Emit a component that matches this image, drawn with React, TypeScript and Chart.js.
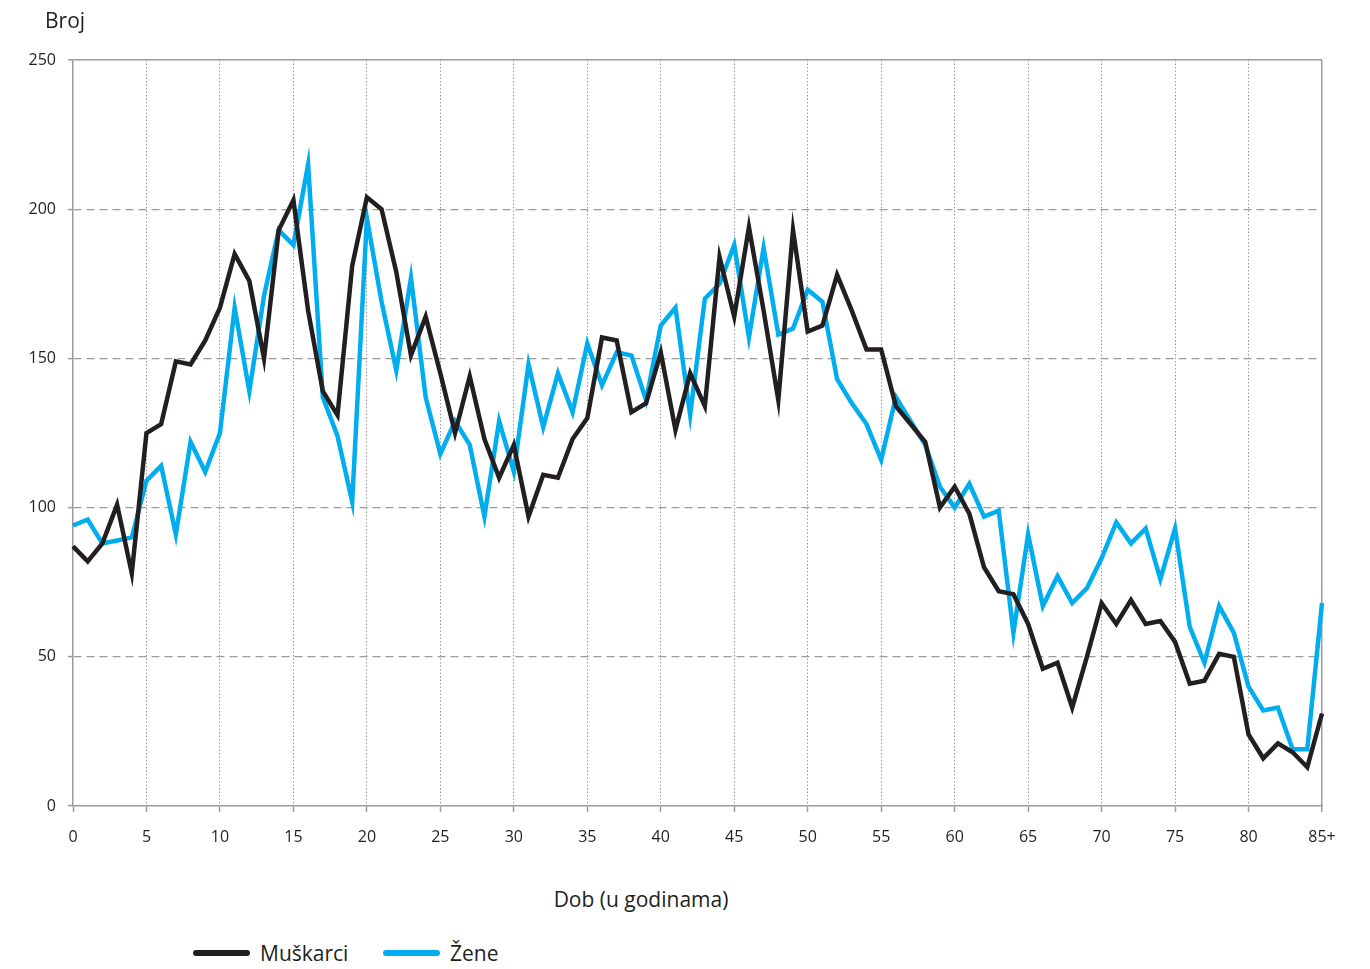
import React, { useEffect, useRef } from "react";
import { Chart, registerables } from "chart.js";

Chart.register(...registerables);

const ageLabels = [
  "0", "1", "2", "3", "4", "5", "6", "7", "8", "9",
  "10", "11", "12", "13", "14", "15", "16", "17", "18", "19",
  "20", "21", "22", "23", "24", "25", "26", "27", "28", "29",
  "30", "31", "32", "33", "34", "35", "36", "37", "38", "39",
  "40", "41", "42", "43", "44", "45", "46", "47", "48", "49",
  "50", "51", "52", "53", "54", "55", "56", "57", "58", "59",
  "60", "61", "62", "63", "64", "65", "66", "67", "68", "69",
  "70", "71", "72", "73", "74", "75", "76", "77", "78", "79",
  "80", "81", "82", "83", "84", "85+",
];

const muskarci = [
  87, 82, 88, 101, 78, 125, 128, 149, 148, 156,
  167, 185, 176, 150, 193, 203, 166, 139, 131, 181,
  204, 200, 179, 151, 164, 145, 125, 144, 123, 110,
  121, 97, 111, 110, 123, 130, 157, 156, 132, 135,
  152, 126, 145, 134, 184, 164, 194, 166, 136, 193,
  159, 161, 178, 166, 153, 153, 134, 128, 122, 100,
  107, 98, 80, 72, 71, 61, 46, 48, 33, 50,
  68, 61, 69, 61, 62, 55, 41, 42, 51, 50,
  24, 16, 21, 18, 13, 31,
];

const zene = [
  94, 96, 88, 89, 90, 109, 114, 91, 122, 112,
  125, 167, 139, 171, 193, 188, 215, 137, 124, 102,
  197, 169, 146, 177, 137, 118, 129, 121, 97, 129,
  112, 148, 127, 145, 132, 155, 141, 152, 151, 136,
  161, 167, 131, 170, 175, 188, 157, 187, 158, 160,
  173, 169, 143, 135, 128, 116, 137, 129, 121, 107,
  100, 108, 97, 99, 58, 91, 67, 77, 68, 73,
  83, 95, 88, 93, 76, 93, 60, 48, 67, 58,
  40, 32, 33, 19, 19, 68,
];

const yTicks = [0, 50, 100, 150, 200, 250];

const GRID = "#9b9b9b";
const TEXT = "#231f20";
const BLACK = "#231f20";
const BLUE = "#00aeef";
const FONT = "'Open Sans', 'Noto Sans', sans-serif";

export default function App() {
  const ref = useRef<HTMLCanvasElement | null>(null);

  useEffect(() => {
    if (!ref.current) return;
    const chart = new Chart(ref.current, {
      type: "line",
      data: {
        labels: ageLabels,
        datasets: [
          {
            label: "Muškarci",
            data: muskarci,
            borderColor: BLACK,
            backgroundColor: BLACK,
            borderWidth: 4.5,
            pointRadius: 0,
            tension: 0,
            fill: false,
          },
          {
            label: "Žene",
            data: zene,
            borderColor: BLUE,
            backgroundColor: BLUE,
            borderWidth: 4.5,
            pointRadius: 0,
            tension: 0,
            fill: false,
          },
        ],
      },
      options: {
        responsive: false,
        animation: false,
        events: [],
        layout: { padding: { left: 0, right: 40, top: 52, bottom: 0 } },
        plugins: {
          legend: { display: false },
          tooltip: { enabled: false },
        },
        scales: {
          x: {
            type: "category",
            offset: false,
            afterFit: (s: any) => {
              s.height = 62;
            },
            grid: {
              color: (c: any) =>
                c.index % 5 === 0 && c.index !== 0 ? GRID : "transparent",
              lineWidth: (c: any) => (c.index === 85 ? 1.5 : 1),
              tickLength: 6,
              tickWidth: 1.5,
              tickColor: (c: any) => (c.index % 5 === 0 ? GRID : "transparent"),
            },
            border: {
              display: true,
              color: GRID,
              width: 1.5,
              dash: (c: any) => (c.index === 85 ? [] : [1.5, 2]),
            },
            ticks: {
              autoSkip: false,
              maxRotation: 0,
              minRotation: 0,
              padding: 16,
              color: TEXT,
              font: { family: FONT, size: 16 },
              callback: (_v: any, i: number) => (i % 5 === 0 ? ageLabels[i] : ""),
            },
          },
          y: {
            min: 0,
            max: 250,
            afterFit: (s: any) => {
              s.width = 65;
            },
            afterBuildTicks: (s: any) => {
              s.ticks = yTicks.map((v) => ({ value: v }));
            },
            grid: {
              color: (c: any) =>
                c.tick && c.tick.value === 0 ? "transparent" : GRID,
              lineWidth: (c: any) => (c.tick && c.tick.value === 250 ? 1.5 : 1.2),
              tickLength: 5,
              tickWidth: 1.5,
              tickColor: GRID,
            },
            border: {
              display: true,
              color: GRID,
              width: 1.5,
              dash: (c: any) => (c.tick && c.tick.value === 250 ? [] : [8, 5]),
            },
            ticks: {
              padding: 12,
              color: TEXT,
              font: { family: FONT, size: 16 },
            },
          },
        },
      },
    });
    return () => chart.destroy();
  }, []);

  const textStyle: React.CSSProperties = {
    position: "absolute",
    fontFamily: FONT,
    fontSize: 21,
    lineHeight: "24px",
    color: TEXT,
    whiteSpace: "nowrap",
  };

  return (
    <div style={{ position: "relative", width: 1354, height: 953 }}>
      <canvas
        ref={ref}
        width={1354}
        height={860}
        style={{ position: "absolute", left: 0, top: 0 }}
      />
      <div style={{ ...textStyle, left: 37, top: 0 }}>Broj</div>
      <div
        style={{
          ...textStyle,
          left: 633,
          top: 879,
          transform: "translateX(-50%)",
        }}
      >
        Dob (u godinama)
      </div>
      <div
        style={{
          position: "absolute",
          left: 185,
          top: 945,
          width: 57,
          height: 6,
          marginTop: -3,
          borderRadius: 3,
          background: BLACK,
        }}
      />
      <div style={{ ...textStyle, left: 252, top: 933 }}>Muškarci</div>
      <div
        style={{
          position: "absolute",
          left: 375,
          top: 945,
          width: 57,
          height: 6,
          marginTop: -3,
          borderRadius: 3,
          background: BLUE,
        }}
      />
      <div style={{ ...textStyle, left: 442, top: 933 }}>Žene</div>
    </div>
  );
}
